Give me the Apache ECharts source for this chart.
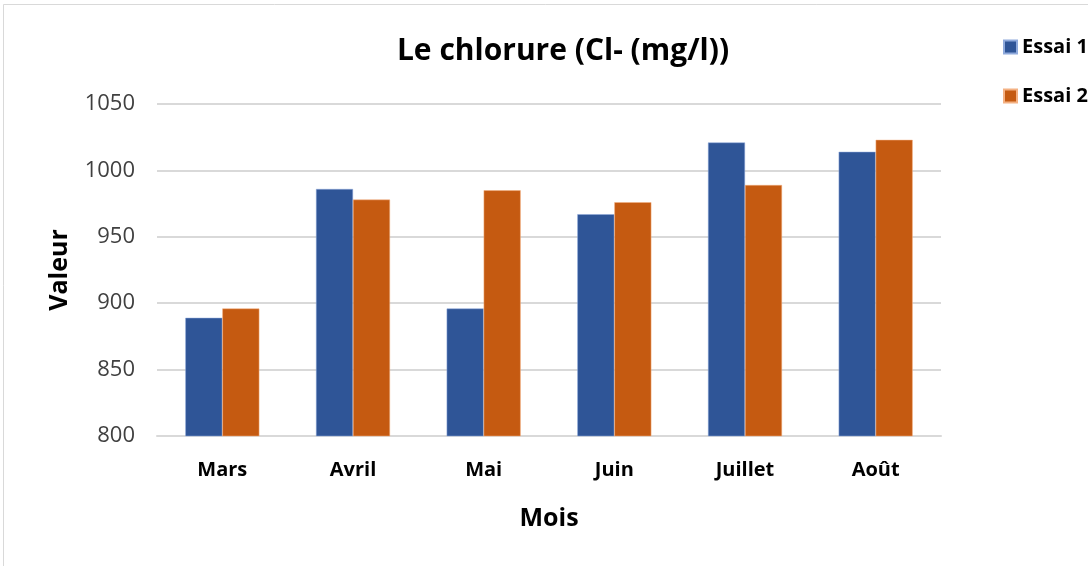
<!DOCTYPE html>
<html>
<head>
<meta charset="utf-8">
<script src="https://cdn.jsdelivr.net/npm/echarts@6/dist/echarts.min.js"></script>
<style>
  html, body { margin: 0; padding: 0; background: #fff; }
  #chart { width: 1088px; height: 566px; }
</style>
</head>
<body>
<div id="chart"></div>
<script>
// Monthly chloride measurements (mg/l), two trials
const months = ['Mars', 'Avril', 'Mai', 'Juin', 'Juillet', 'Août'];
const essai1 = [889, 986, 896, 967, 1021, 1014];
const essai2 = [896, 978, 985, 976, 989, 1023];
const yTicks = [800, 850, 900, 950, 1000, 1050];

const FONT = '"Open Sans", "Liberation Sans", sans-serif';
const chart = echarts.init(document.getElementById('chart'), null, { renderer: 'canvas' });

chart.setOption({
  animation: false,
  backgroundColor: '#ffffff',
  graphic: [{
    type: 'polyline',
    shape: { points: [[3.5, 566], [3.5, 4.5], [1088, 4.5]] },
    style: { stroke: '#d9d9d9', lineWidth: 1, fill: null }
  }],
  title: {
    text: 'Le chlorure (Cl- (mg/l))',
    left: 558, top: 31, textAlign: 'center',
    textStyle: { fontFamily: FONT, fontWeight: 'bold', fontSize: 30, color: '#000' }
  },
  legend: {
    orient: 'vertical', left: 998, top: 32, itemGap: 29,
    itemWidth: 13, itemHeight: 13, icon: 'rect',
    textStyle: { fontFamily: FONT, fontWeight: 'bold', fontSize: 20, color: '#000' },
    data: ['Essai 1', 'Essai 2']
  },
  grid: { left: 157, right: 147, top: 104, bottom: 130, containLabel: false },
  xAxis: {
    type: 'category', data: months,
    name: 'Mois', nameLocation: 'middle', nameGap: 70,
    nameTextStyle: { fontFamily: FONT, fontWeight: 'bold', fontSize: 25, color: '#000' },
    axisLine: { lineStyle: { color: '#d9d9d9', width: 2 } },
    axisTick: { show: false },
    axisLabel: { fontFamily: FONT, fontWeight: 'bold', fontSize: 20, color: '#000', margin: 24 }
  },
  yAxis: {
    type: 'value', min: yTicks[0], max: yTicks[yTicks.length - 1], interval: 50,
    name: 'Valeur', nameLocation: 'middle', nameGap: 85, nameRotate: 90,
    nameTextStyle: { fontFamily: FONT, fontWeight: 'bold', fontSize: 25, color: '#000' },
    axisLine: { show: false }, axisTick: { show: false },
    axisLabel: { fontFamily: FONT, fontSize: 22, color: '#404040', margin: 22,
                 formatter: v => String(v) },
    splitLine: { lineStyle: { color: '#d9d9d9', width: 2 } }
  },
  series: [
    { name: 'Essai 1', type: 'bar', data: essai1, barWidth: 37, barGap: '0%',
      itemStyle: { color: '#2f5597', borderColor: '#8faadc', borderWidth: 0.5 } },
    { name: 'Essai 2', type: 'bar', data: essai2, barWidth: 37, barGap: '0%',
      itemStyle: { color: '#c55a11', borderColor: '#f4b183', borderWidth: 0.5 } }
  ]
});
</script>
</body>
</html>
